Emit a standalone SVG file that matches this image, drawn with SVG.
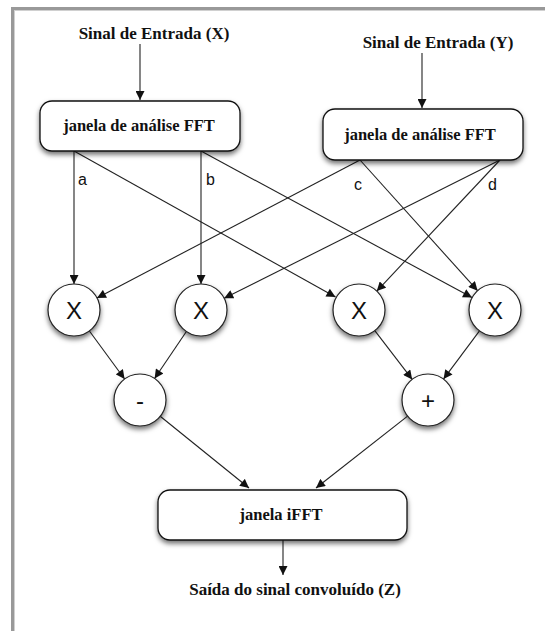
<svg xmlns="http://www.w3.org/2000/svg" width="545" height="631" viewBox="0 0 545 631">
<style>
.title{font-family:"Liberation Serif","Times New Roman",serif;font-weight:bold;font-size:17px;fill:#111;text-anchor:middle}
.lbl{font-family:"Liberation Serif","Times New Roman",serif;font-weight:bold;font-size:16.5px;fill:#111;text-anchor:middle}
.op{font-family:"Liberation Sans",Arial,sans-serif;font-size:24px;fill:#111;text-anchor:middle}
.ch{font-family:"Liberation Sans",Arial,sans-serif;font-size:16px;fill:#111}
.box{fill:#fff;stroke:#111;stroke-width:1.3}
.circ{fill:#fff;stroke:#222;stroke-width:1.2}
.edge{stroke:#222;stroke-width:1.1;fill:none;marker-end:url(#arr)}
.plain{stroke:#222;stroke-width:1.1;fill:none}
</style>
<defs>
<marker id="arr" viewBox="0 0 10 10" refX="10" refY="5" markerWidth="10" markerHeight="9" markerUnits="userSpaceOnUse" orient="auto">
<path d="M0,0 L10,5 L0,10 z" fill="#111"/>
</marker>
<filter id="sh" x="-20%" y="-20%" width="140%" height="160%">
<feDropShadow dx="0" dy="3" stdDeviation="2.5" flood-color="#000" flood-opacity="0.55"/>
</filter>
</defs>
<rect width="545" height="631" fill="#fff"/>
<g id="frame">
<line x1="12.5" y1="7" x2="12.5" y2="631" stroke="#999" stroke-width="3"/>
<line x1="14.5" y1="10" x2="14.5" y2="631" stroke="#d0d0d0" stroke-width="1"/>
<line x1="11" y1="8.5" x2="545" y2="8.5" stroke="#999" stroke-width="3"/>
<line x1="14" y1="10.5" x2="545" y2="10.5" stroke="#d0d0d0" stroke-width="1"/>
</g>
<g id="connectors">
<line class="edge" x1="140" y1="44" x2="140" y2="100"/>
<line class="edge" x1="422" y1="53" x2="422" y2="108"/>
<line class="edge" x1="74" y1="151" x2="74" y2="284"/>
<line class="edge" x1="74" y1="151" x2="335.5" y2="297"/>
<line class="edge" x1="201" y1="151" x2="201" y2="284"/>
<line class="edge" x1="201" y1="151" x2="472" y2="297.6"/>
<line class="edge" x1="360" y1="160" x2="97" y2="298"/>
<line class="edge" x1="360" y1="160" x2="477.6" y2="290.7"/>
<line class="edge" x1="500" y1="160" x2="224.2" y2="298.3"/>
<line class="edge" x1="500" y1="160" x2="376.8" y2="291.1"/>
<line class="edge" x1="89.4" y1="331" x2="124.6" y2="379"/>
<line class="edge" x1="186.4" y1="331.5" x2="154.6" y2="378.5"/>
<line class="edge" x1="374.8" y1="330.6" x2="412.2" y2="379.4"/>
<line class="edge" x1="479.5" y1="330.9" x2="443.5" y2="379.1"/>
<line class="edge" x1="160.2" y1="416.3" x2="249" y2="488"/>
<line class="edge" x1="407.6" y1="416.1" x2="316" y2="488"/>
<line class="edge" x1="283" y1="540" x2="283" y2="575"/>
<text class="ch" x="78" y="185">a</text>
<text class="ch" x="206" y="185">b</text>
<text class="ch" x="354" y="190">c</text>
<text class="ch" x="488" y="190">d</text>
</g>
<g id="inX"><text class="title" x="154" y="39">Sinal de Entrada (X)</text></g>
<g id="inY"><text class="title" x="438" y="48">Sinal de Entrada (Y)</text></g>
<g id="fftX">
<rect class="box" x="40" y="101" width="200" height="50" rx="12" filter="url(#sh)"/>
<text class="lbl" x="139" y="131">janela de análise FFT</text>
</g>
<g id="fftY">
<rect class="box" x="323" y="109" width="200" height="51" rx="12" filter="url(#sh)"/>
<text class="lbl" x="420" y="140">janela de análise FFT</text>
</g>
<g id="mul1"><circle class="circ" cx="74" cy="310" r="26" filter="url(#sh)"/><text class="op" x="74" y="318.5">X</text></g>
<g id="mul2"><circle class="circ" cx="201" cy="310" r="26" filter="url(#sh)"/><text class="op" x="201" y="318.5">X</text></g>
<g id="mul3"><circle class="circ" cx="359" cy="310" r="26" filter="url(#sh)"/><text class="op" x="359" y="318.5">X</text></g>
<g id="mul4"><circle class="circ" cx="495" cy="310" r="26" filter="url(#sh)"/><text class="op" x="495" y="318.5">X</text></g>
<g id="sub"><circle class="circ" cx="140" cy="400" r="26" filter="url(#sh)"/><text class="op" x="140" y="409">-</text></g>
<g id="add"><circle class="circ" cx="428" cy="400" r="26" filter="url(#sh)"/><text class="op" x="428" y="409">+</text></g>
<g id="ifft">
<rect class="box" x="158" y="490" width="249" height="50" rx="12" filter="url(#sh)"/>
<text class="lbl" x="281" y="520">janela iFFT</text>
</g>
<g id="out"><text class="title" x="295" y="595">Saída do sinal convoluído (Z)</text></g>
</svg>
